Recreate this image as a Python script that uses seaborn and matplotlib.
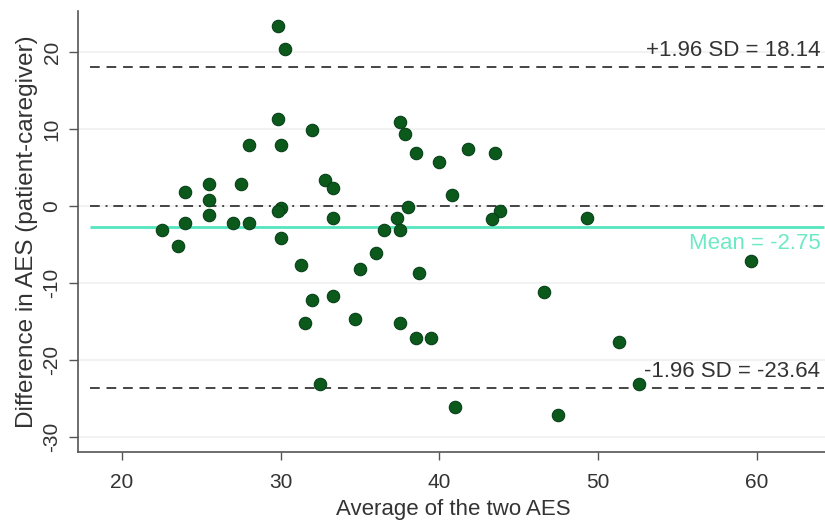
import numpy as np
import pandas as pd
import seaborn as sns
import matplotlib.pyplot as plt

# Bland-Altman data
avg_aes = [29.8, 30.3, 29.8, 32.0, 28.0, 30.0, 37.5, 37.8, 38.5, 40.0,
           41.8, 24.0, 25.5, 25.5, 25.5, 27.5, 24.0, 27.0, 28.0, 22.5,
           23.5, 30.0, 29.8, 30.0, 32.8, 33.3, 33.3, 36.0, 36.5, 37.3,
           37.5, 38.0, 40.8, 31.3, 35.0, 38.7, 32.0, 33.3, 31.5, 34.7,
           37.5, 38.5, 39.5, 32.5, 41.0, 43.5, 43.8, 43.3, 49.3, 59.6,
           46.6, 51.3, 52.6, 47.5]
diff_aes = [23.4, 20.4, 11.4, 9.9, 7.9, 7.9, 10.9, 9.4, 6.9, 5.8,
            7.4, 1.9, 2.9, 0.8, -1.1, 2.9, -2.2, -2.2, -2.2, -3.1,
            -5.2, -0.2, -0.6, -4.1, 3.4, 2.3, -1.6, -6.1, -3.1, -1.6,
            -3.1, -0.1, 1.4, -7.7, -8.2, -8.7, -12.2, -11.7, -15.2, -14.7,
            -15.2, -17.2, -17.2, -23.2, -26.2, 6.9, -0.6, -1.7, -1.6, -7.2,
            -11.2, -17.7, -23.2, -27.2]

mean_diff = -2.75
upper_loa = 18.14
lower_loa = -23.64

df = pd.DataFrame({"avg": avg_aes, "diff": diff_aes})

sns.set_theme(style="white")
plt.rcParams['font.family'] = ['Liberation Sans', 'DejaVu Sans']
plt.rcParams['axes.unicode_minus'] = False

fig = plt.figure(figsize=(8.25, 5.22), dpi=100)
ax = fig.add_axes([0.094, 0.134, 0.91, 0.845])

# faint grid
for yv in [-30, -20, -10, 0, 10, 20]:
    ax.axhline(yv, color='#f2f2f2', lw=1.5, zorder=0)

x0, x1 = 18.0, 64.2
ax.hlines(upper_loa, x0, x1, colors='#444444', linestyles=(0, (5, 3.5)), lw=1.4, zorder=1)
ax.hlines(lower_loa, x0, x1, colors='#444444', linestyles=(0, (5, 3.5)), lw=1.4, zorder=1)
ax.hlines(0, x0, x1, colors='#444444', linestyles=(0, (5, 3, 1, 3)), lw=1.4, zorder=1)
ax.hlines(mean_diff, x0, x1, colors='#55e6bf', lw=2, zorder=1)

sns.scatterplot(data=df, x="avg", y="diff", ax=ax, s=80, color='#0b5a1c',
                edgecolor='#07401a', linewidth=0.8, zorder=3)

ax.text(64.0, upper_loa + 0.7, "+1.96 SD = 18.14", ha='right', va='bottom',
        fontsize=16, color='#333333')
ax.text(64.0, lower_loa + 0.7, "-1.96 SD = -23.64", ha='right', va='bottom',
        fontsize=16, color='#333333')
ax.text(64.0, mean_diff - 0.7, "Mean = -2.75", ha='right', va='top',
        fontsize=16, color='#6ee9c6')

ax.set_xlim(17.2, 64.5)
ax.set_ylim(-32.0, 25.4)
ax.set_xticks([20, 30, 40, 50, 60])
ax.set_yticks([-30, -20, -10, 0, 10, 20])
ax.tick_params(axis='both', which='both', direction='out', width=1,
               color='#555555', labelsize=15, labelcolor='#333333', bottom=True, left=True)
ax.tick_params(axis='x', length=6, pad=9)
ax.tick_params(axis='y', length=6.5, pad=5)
for lab in ax.get_yticklabels():
    lab.set_rotation(90)
    lab.set_va('center')

ax.set_xlabel("Average of the two AES", fontsize=16, color='#333333', labelpad=5)
ax.set_ylabel("Difference in AES (patient-caregiver)", fontsize=17.5, color='#333333', labelpad=3)

sns.despine(ax=ax)
ax.spines['left'].set_color('#555555')
ax.spines['bottom'].set_color('#555555')
ax.spines['left'].set_linewidth(1.2)
ax.spines['bottom'].set_linewidth(1.2)

fig.savefig("out.png", dpi=100)
